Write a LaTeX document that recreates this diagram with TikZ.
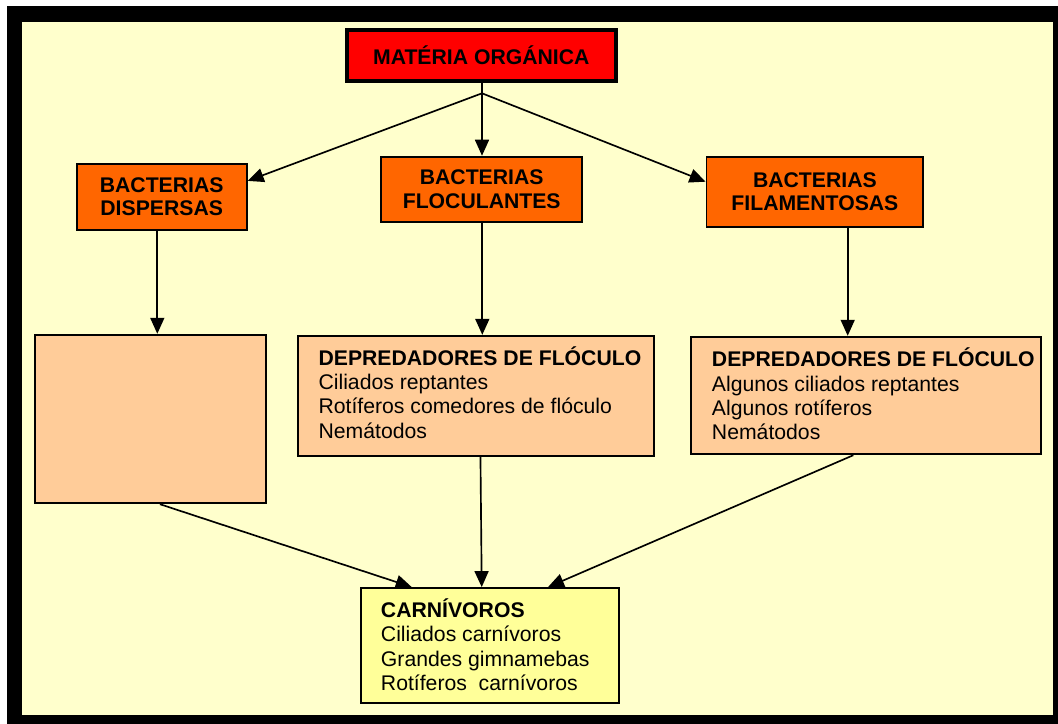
\documentclass[tikz,border=0pt]{standalone}
\usepackage{fontspec}
\setmainfont{Liberation Sans}
\usetikzlibrary{arrows.meta,calc}
\newdimen\pxu \pxu=0.75pt
\definecolor{bgyellow}{HTML}{FFFFCC}
\definecolor{redbox}{HTML}{FF0000}
\definecolor{orangebox}{HTML}{FF6600}
\definecolor{peachbox}{HTML}{FFCC99}
\definecolor{carnbox}{HTML}{FFFF99}
\begin{document}
\begin{tikzpicture}[x=0.75pt,y=-0.75pt,
  box/.style={draw=black, line width=1.45pt, rectangle, inner sep=0pt},
  headbox/.style={box, fill=orangebox, align=center,
    font=\bfseries\fontsize{15.9}{17.6}\selectfont},
  listtext/.style={anchor=base west, inner sep=0pt,
    font=\fontsize{15.9}{18.3}\selectfont},
  arr/.style={line width=1.25pt, -{Triangle[length=12pt,width=10.5pt]}},
  ln/.style={line width=1.25pt}]
\useasboundingbox (0,0) rectangle (1058,724);
\fill[white] (0,0) rectangle (1058,724);
\fill[black] (7,6) rectangle (1058,724);
\fill[bgyellow] (22,22) rectangle (1052.7,715);

% boxes
\node[box, line width=3pt, fill=redbox, minimum width=268.7\pxu, minimum height=51\pxu,
  font=\bfseries\fontsize{15.9}{17.6}\selectfont] (mo) at (481.3,55.2) {MATÉRIA ORGÁNICA};
\node[headbox, minimum width=170\pxu, minimum height=66\pxu] (bd) at (161.7,196.9) {BACTERIAS\\DISPERSAS};
\node[headbox, minimum width=200.5\pxu, minimum height=65\pxu] (bfc) at (481.7,189.2) {BACTERIAS\\FLOCULANTES};
\node[headbox, minimum width=216.8\pxu, minimum height=69.8\pxu] (bfl) at (814.9,191.7) {BACTERIAS\\FILAMENTOSAS};
\node[box, fill=peachbox, minimum width=230.8\pxu, minimum height=168.5\pxu] (le) at (150.2,419) {};
\node[box, fill=peachbox, minimum width=356.2\pxu, minimum height=120.2\pxu] (dm) at (476.2,395.9) {};
\node[box, fill=peachbox, minimum width=350.2\pxu, minimum height=117.5\pxu] (dr) at (865.9,395.5) {};
\node[box, fill=carnbox, minimum width=258.5\pxu, minimum height=114.5\pxu] (ca) at (490,645.3) {};

% texts of list boxes
\node[listtext] (tdm) at (318.3,365) {\begin{tabular}[t]{@{}l@{}}\textbf{DEPREDADORES DE FLÓCULO}\\Ciliados reptantes\\Rotíferos comedores de flóculo\\Nemátodos\end{tabular}};
\node[listtext] (tdr) at (711.7,366.7) {\begin{tabular}[t]{@{}l@{}}\textbf{DEPREDADORES DE FLÓCULO}\\Algunos ciliados reptantes\\Algunos rotíferos\\Nemátodos\end{tabular}};
\node[listtext] (tca) at (380.7,617.3) {\begin{tabular}[t]{@{}l@{}}\textbf{CARNÍVOROS}\\Ciliados carnívoros\\Grandes gimnamebas\\Rotíferos\ \ carnívoros\end{tabular}};

% connector points
\coordinate (j) at (482,93.3);
\coordinate (bdin) at ([yshift=12pt]bd.east);
\coordinate (bflin) at ([yshift=7.5pt]bfl.west);
\coordinate (bdout) at ([xshift=-3.3pt]bd.south);
\coordinate (bfcout) at ([xshift=0.45pt]bfc.south);
\coordinate (bflout) at ([xshift=24.6pt]bfl.south);
\coordinate (leout) at ([xshift=7.35pt]le.south);
\coordinate (dmout) at ([xshift=3.2pt]dm.south);
\coordinate (drout) at ([xshift=-9.45pt]dr.south);
\coordinate (cain1) at ([xshift=-58.7pt]ca.north);
\coordinate (cain2) at ([xshift=-6.2pt]ca.north);
\coordinate (cain3) at ([xshift=43.5pt]ca.north);

% connectors
\draw[ln] (mo.south -| j) -- (j);
\draw[arr] (j) -- (bdin);
\draw[arr] (j) -- (j |- bfc.north);
\draw[arr] (j) -- (bflin);
\draw[arr] (bdout) -- (bdout |- le.north);
\draw[arr] (bfcout) -- (bfcout |- dm.north);
\draw[arr] (bflout) -- (bflout |- dr.north);
\draw[arr] (leout) -- (cain1);
\draw[arr] (dmout) -- (cain2);
\draw[arr] (drout) -- (cain3);
\end{tikzpicture}
\end{document}
